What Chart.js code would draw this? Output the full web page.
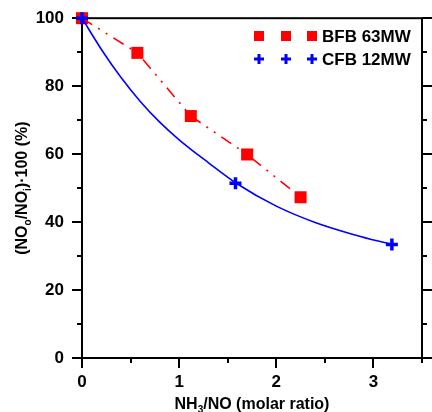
<!DOCTYPE html>
<html>
<head>
<meta charset="utf-8">
<script src="https://cdn.jsdelivr.net/npm/chart.js@4.4.1/dist/chart.umd.min.js"></script>
<style>
  html, body { margin: 0; padding: 0; background: #fff; }
  #wrap { width: 432px; height: 412px; }
</style>
</head>
<body>
<div id="wrap"><canvas id="myChart" width="432" height="412"></canvas></div>
<script>
// data
const bfbRatio = [0, 0.57, 1.12, 1.7, 2.25];
const bfbNO = [100, 89.8, 71.2, 59.9, 47.3];

const cfbRatio = [0, 1.58, 3.19];
const cfbNO = [100, 51.4, 33.4];

// blue fitted curve
const fitRatio = [0, 0.2, 0.4, 0.6, 0.8, 1.0, 1.3, 1.6, 2.0, 2.4, 2.8, 3.19];
const fitNO = [100, 90.8, 82.6, 75.5, 69.4, 64.2, 57.5, 51.2, 44.7, 39.9, 36.3, 33.4];

const xTicks = [0, 1, 2, 3];
const yTicks = [0, 20, 40, 60, 80, 100];

const FONT = "'Liberation Sans', Arial, sans-serif";

function toPoints(xs, ys) {
  return xs.map((x, i) => ({x: x, y: ys[i]}));
}

// frame, minor/major ticks on left, bottom and right
const framePlugin = {
  id: 'frame',
  beforeDatasetsDraw(chart) {
    const ctx = chart.ctx;
    const a = chart.chartArea;
    const xs = chart.scales.x;
    const ys = chart.scales.y;
    ctx.save();
    ctx.strokeStyle = '#000';
    ctx.lineWidth = 2;
    ctx.strokeRect(a.left, a.top, a.right - a.left, a.bottom - a.top);
    ctx.beginPath();
    for (let v = 0; v <= 100; v += 10) {
      const py = Math.round(ys.getPixelForValue(v));
      const len = v % 20 === 0 ? 10 : 5;
      ctx.moveTo(a.left - len, py);
      ctx.lineTo(a.left, py);
      ctx.moveTo(a.right, py);
      ctx.lineTo(a.right + len, py);
    }
    for (let v = 0; v <= 3.5; v += 0.5) {
      const px = Math.round(xs.getPixelForValue(v));
      const len = v % 1 === 0 ? 10 : 5;
      ctx.moveTo(px, a.bottom);
      ctx.lineTo(px, a.bottom + len);
    }
    ctx.stroke();

    // axis titles with subscripts
    ctx.fillStyle = '#000';
    ctx.textBaseline = 'alphabetic';
    const big = 'bold 16px ' + FONT;
    const small = 'bold 10px ' + FONT;
    function drawRich(parts, x, y) {
      let w = 0;
      parts.forEach(p => { ctx.font = p[1] ? small : big; w += ctx.measureText(p[0]).width; });
      let cx = x - w / 2;
      parts.forEach(p => {
        ctx.font = p[1] ? small : big;
        ctx.fillText(p[0], cx, y + (p[1] ? 4 : 0));
        cx += ctx.measureText(p[0]).width;
      });
    }
    drawRich([['NH', false], ['3', true], ['/NO (molar ratio)', false]], (a.left + a.right) / 2, 409);
    ctx.translate(27, (a.top + a.bottom) / 2);
    ctx.rotate(-Math.PI / 2);
    drawRich([['(NO', false], ['o', true], ['/NO', false], ['i', true], [')\u00b7100 (%)', false]], 0, 0);
    ctx.restore();

    // legend: three markers then the label
    ctx.save();
    const rows = [
      {label: 'BFB 63MW', y: 36, kind: 'rect', color: '#ff0000'},
      {label: 'CFB 12MW', y: 59, kind: 'cross', color: '#0000ff'}
    ];
    rows.forEach(r => {
      [259, 286, 312].forEach(mx => {
        if (r.kind === 'rect') {
          ctx.fillStyle = r.color;
          ctx.fillRect(mx - 5, r.y - 5, 10, 10);
        } else {
          ctx.strokeStyle = r.color;
          ctx.lineWidth = 3;
          ctx.beginPath();
          ctx.moveTo(mx - 5, r.y); ctx.lineTo(mx + 5, r.y);
          ctx.moveTo(mx, r.y - 5); ctx.lineTo(mx, r.y + 5);
          ctx.stroke();
        }
      });
      ctx.fillStyle = '#000';
      ctx.font = 'bold 17px ' + FONT;
      ctx.textBaseline = 'middle';
      ctx.fillText(r.label, 322, r.y + 1);
    });
    ctx.restore();
  }
};

const ctxChart = document.getElementById('myChart');
new Chart(ctxChart, {
  type: 'scatter',
  data: {
    datasets: [
      {
        label: 'CFB fit',
        order: 1,
        data: toPoints(fitRatio, fitNO),
        showLine: true,
        clip: false,
        borderColor: '#0000ff',
        borderWidth: 1.6,
        pointRadius: 0,
        cubicInterpolationMode: 'monotone'
      },
      {
        label: 'BFB 63MW',
        order: 2,
        data: toPoints(bfbRatio, bfbNO),
        showLine: true,
        clip: false,
        borderColor: '#ff0000',
        borderWidth: 1.6,
        borderDash: [12, 7, 2, 7, 2, 7],
        backgroundColor: '#ff0000',
        pointStyle: 'rect',
        pointRadius: 8.5,
        pointBorderWidth: 0,
        pointBackgroundColor: '#ff0000'
      },
      {
        label: 'CFB 12MW',
        order: 0,
        data: toPoints(cfbRatio, cfbNO),
        showLine: false,
        clip: false,
        borderColor: '#0000ff',
        pointStyle: 'cross',
        pointRadius: 6,
        pointBorderWidth: 3.5,
        pointBorderColor: '#0000ff'
      }
    ]
  },
  options: {
    responsive: false,
    animation: false,
    layout: {padding: {top: 18, right: 10, left: 0, bottom: 0}},
    plugins: {
      legend: {display: false},
      tooltip: {enabled: false}
    },
    scales: {
      x: {
        type: 'linear',
        min: 0,
        max: 3.5,
        afterFit: s => { s.height = 54; },
        afterBuildTicks: s => { s.ticks = xTicks.map(v => ({value: v})); },
        ticks: {
          color: '#000',
          font: {family: FONT, size: 17, weight: 'bold'},
          padding: 4,
          maxRotation: 0
        },
        grid: {drawOnChartArea: false, drawTicks: true, tickLength: 10, tickColor: 'rgba(0,0,0,0)'},
        border: {display: false}
      },
      y: {
        type: 'linear',
        min: 0,
        max: 100,
        afterFit: s => { s.width = 82; },
        afterBuildTicks: s => { s.ticks = yTicks.map(v => ({value: v})); },
        ticks: {
          color: '#000',
          font: {family: FONT, size: 17, weight: 'bold'},
          padding: 8
        },
        grid: {drawOnChartArea: false, drawTicks: true, tickLength: 10, tickColor: 'rgba(0,0,0,0)'},
        border: {display: false}
      }
    }
  },
  plugins: [framePlugin]
});
</script>
</body>
</html>
